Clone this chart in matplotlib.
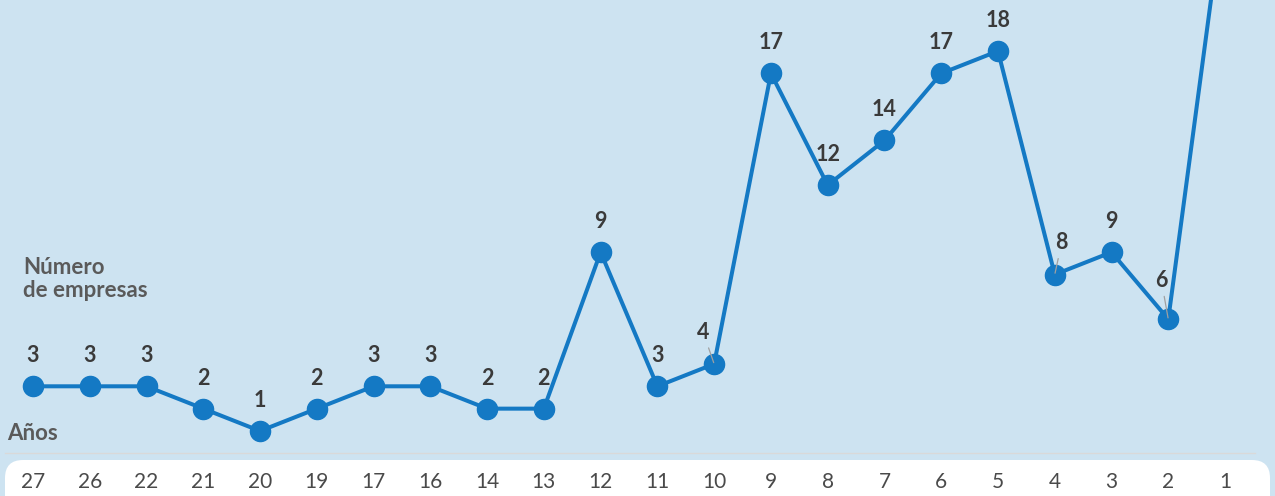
import matplotlib
matplotlib.use("Agg")
import matplotlib.pyplot as plt
from matplotlib.patches import FancyBboxPatch
from matplotlib.transforms import IdentityTransform

plt.rcParams['font.family'] = ['Lato', 'DejaVu Sans']

# data
years = ["27", "26", "22", "21", "20", "19", "17", "16", "14", "13", "12",
         "11", "10", "9", "8", "7", "6", "5", "4", "3", "2", "1"]
companies = [3, 3, 3, 2, 1, 2, 3, 3, 2, 2, 9, 3, 4, 17, 12, 14, 17, 18, 8, 9, 6, 25]

# label offsets (points) for the few labels nudged aside with a leader line
nudged = {"10": (-8, 23), "4": (5, 23), "2": (-5, 28)}

bg = "#cde3f1"
blue = "#1479c4"

fig = plt.figure(figsize=(12.75, 4.96), dpi=100, facecolor=bg)
ax = fig.add_axes([0, 36 / 496, 1, 460 / 496])
ax.set_facecolor(bg)

# white strip behind the year labels
strip = FancyBboxPatch((5, -30), 1265, 66, boxstyle="round,pad=0,rounding_size=18",
                       transform=IdentityTransform(), facecolor="white",
                       edgecolor="none", zorder=-1)
fig.patches.append(strip)

x = list(range(len(years)))
ax.plot(x, companies, color=blue, lw=2.9, marker="o", ms=14.5, zorder=3)
ax.axhline(0, xmin=0.004, xmax=0.984, color="#d9d9d9", lw=1, zorder=1)

for i, (yr, v) in enumerate(zip(years, companies)):
    if yr in nudged:
        ax.annotate(str(v), (i, v), xytext=nudged[yr], textcoords="offset points",
                    ha="center", va="center", fontsize=15.5, fontweight="bold",
                    color="#3a3a3a",
                    arrowprops=dict(arrowstyle="-", color="#a0a0a0", lw=0.9,
                                    shrinkA=2, shrinkB=1))
    else:
        ax.annotate(str(v), (i, v), xytext=(0, 22), textcoords="offset points",
                    ha="center", va="center", fontsize=15.5, fontweight="bold",
                    color="#3a3a3a")

ax.set_xlim(-0.581, 21.88)
ax.set_ylim(1 + (431 - 460) / 22.35, 1 + 431 / 22.35)
ax.set_xticks(x)
ax.set_xticklabels(years)
ax.tick_params(axis="x", length=0, pad=9, labelsize=15, labelcolor="#4a4a4a")
ax.set_yticks([])
for s in ax.spines.values():
    s.set_visible(False)

ax.text(23 / 1275, 1 - 279 / 460, "Número\nde empresas", transform=ax.transAxes,
        ha="left", va="center", fontsize=16, fontweight="bold", color="#5a5a5a",
        linespacing=1.12)
ax.text(7 / 1275, 1 - 433 / 460, "Años", transform=ax.transAxes,
        ha="left", va="center", fontsize=16, fontweight="bold", color="#5a5a5a")

fig.savefig("out.png", dpi=100, facecolor=bg)
